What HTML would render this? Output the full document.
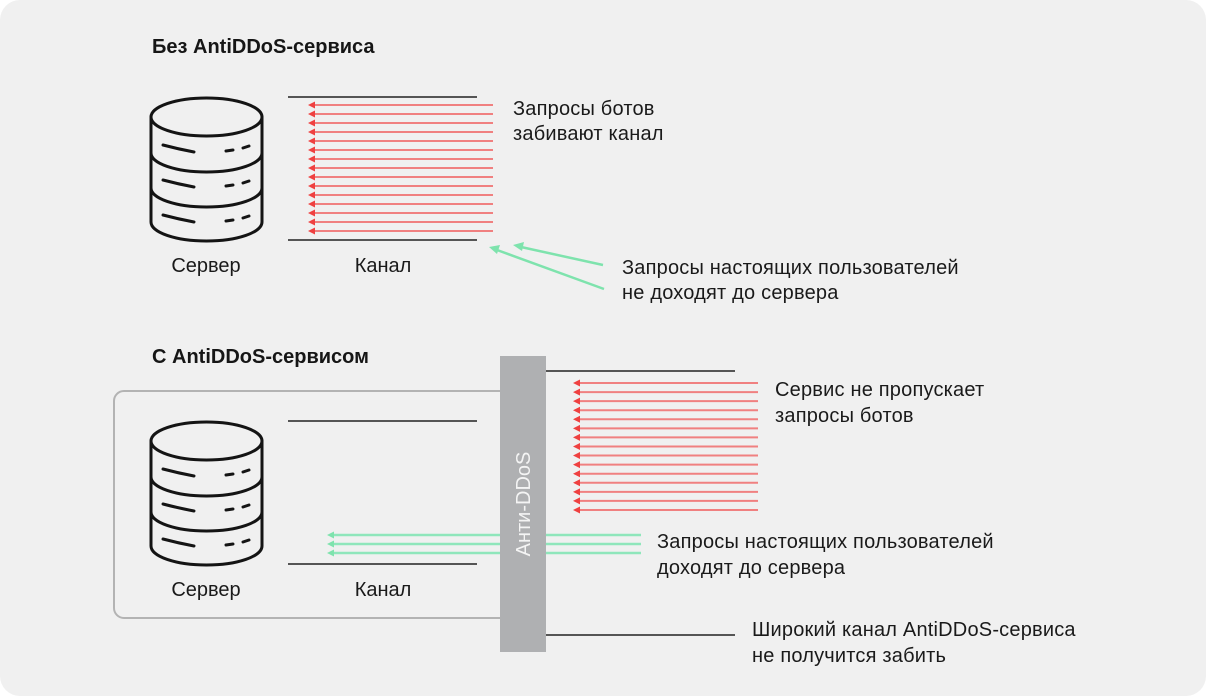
<!DOCTYPE html>
<html><head><meta charset="utf-8">
<style>
html,body{margin:0;padding:0;background:#fff;}
svg{display:block;}
text{font-family:"Liberation Sans",Arial,sans-serif;}
.b{letter-spacing:0.2px;}
</style></head>
<body>
<svg width="1206" height="696" viewBox="0 0 1206 696" xmlns="http://www.w3.org/2000/svg">
<defs>
  <g id="server" fill="none" stroke="#141414" stroke-width="3" stroke-linecap="round">
    <ellipse cx="206.5" cy="117" rx="55.5" ry="19"/>
    <path d="M151,117 L151,222 A55.5,19 0 0 0 262,222 L262,117"/>
    <path d="M151,153 A55.5,19 0 0 0 262,153"/>
    <path d="M151,188 A55.5,19 0 0 0 262,188"/>
    <path d="M163,145 Q178,149 194,152"/>
    <path d="M226,151 L233,150"/>
    <path d="M243,148 L249,146"/>
    <path d="M163,180 Q178,184 194,187"/>
    <path d="M226,186 L233,185"/>
    <path d="M243,183 L249,181"/>
    <path d="M163,215 Q178,219 194,222"/>
    <path d="M226,221 L233,220"/>
    <path d="M243,218 L249,216"/>
  </g>
</defs>

<rect x="0" y="0" width="1206" height="696" rx="20" ry="20" fill="#f0f0f0"/>

<!-- ===== TOP SECTION ===== -->
<text x="152" y="53" font-size="20" font-weight="700" fill="#161616">Без AntiDDoS-сервиса</text>

<use href="#server"/>
<text x="206" y="272" font-size="20" fill="#1a1a1a" text-anchor="middle">Сервер</text>
<text x="383" y="272" font-size="20" fill="#1a1a1a" text-anchor="middle">Канал</text>

<line x1="288" y1="97" x2="477" y2="97" stroke="#555" stroke-width="2"/>
<line x1="288" y1="240" x2="477" y2="240" stroke="#555" stroke-width="2"/>

<g id="redtop">
<g stroke="#f08080" stroke-width="2">
<line x1="313" y1="105" x2="493" y2="105"/>
<line x1="313" y1="114" x2="493" y2="114"/>
<line x1="313" y1="123" x2="493" y2="123"/>
<line x1="313" y1="132" x2="493" y2="132"/>
<line x1="313" y1="141" x2="493" y2="141"/>
<line x1="313" y1="150" x2="493" y2="150"/>
<line x1="313" y1="159" x2="493" y2="159"/>
<line x1="313" y1="168" x2="493" y2="168"/>
<line x1="313" y1="177" x2="493" y2="177"/>
<line x1="313" y1="186" x2="493" y2="186"/>
<line x1="313" y1="195" x2="493" y2="195"/>
<line x1="313" y1="204" x2="493" y2="204"/>
<line x1="313" y1="213" x2="493" y2="213"/>
<line x1="313" y1="222" x2="493" y2="222"/>
<line x1="313" y1="231" x2="493" y2="231"/>
</g>
<g fill="#ef4040">
<polygon points="308,105 315,101.5 315,108.5"/>
<polygon points="308,114 315,110.5 315,117.5"/>
<polygon points="308,123 315,119.5 315,126.5"/>
<polygon points="308,132 315,128.5 315,135.5"/>
<polygon points="308,141 315,137.5 315,144.5"/>
<polygon points="308,150 315,146.5 315,153.5"/>
<polygon points="308,159 315,155.5 315,162.5"/>
<polygon points="308,168 315,164.5 315,171.5"/>
<polygon points="308,177 315,173.5 315,180.5"/>
<polygon points="308,186 315,182.5 315,189.5"/>
<polygon points="308,195 315,191.5 315,198.5"/>
<polygon points="308,204 315,200.5 315,207.5"/>
<polygon points="308,213 315,209.5 315,216.5"/>
<polygon points="308,222 315,218.5 315,225.5"/>
<polygon points="308,231 315,227.5 315,234.5"/>
</g>
</g>

<text class="b" font-size="20" fill="#1a1a1a"><tspan x="513" y="115">Запросы ботов</tspan><tspan x="513" y="140">забивают канал</tspan></text>

<!-- green arrows top -->
<g stroke="#7ee3ad" stroke-width="2.5" fill="none">
  <line x1="603" y1="265" x2="521" y2="247"/>
  <line x1="604" y1="289" x2="497" y2="250"/>
</g>
<g fill="#7ee3ad">
  <polygon points="513,245 524,242 522,251"/>
  <polygon points="489,247 500,245 497,254"/>
</g>
<text class="b" font-size="20" fill="#1a1a1a"><tspan x="622" y="274">Запросы настоящих пользователей</tspan><tspan x="622" y="299">не доходят до сервера</tspan></text>

<!-- ===== BOTTOM SECTION ===== -->
<text x="152" y="363" font-size="20" font-weight="700" fill="#161616">С AntiDDoS-сервисом</text>

<rect x="114" y="391" width="420" height="227" rx="10" ry="10" fill="none" stroke="#b3b3b3" stroke-width="2"/>

<use href="#server" transform="translate(0,324)"/>
<text x="206" y="596" font-size="20" fill="#1a1a1a" text-anchor="middle">Сервер</text>
<text x="383" y="596" font-size="20" fill="#1a1a1a" text-anchor="middle">Канал</text>

<line x1="288" y1="421" x2="477" y2="421" stroke="#555" stroke-width="2"/>
<line x1="288" y1="564" x2="477" y2="564" stroke="#555" stroke-width="2"/>

<!-- green bottom arrows -->
<g stroke="#8fe6bb" stroke-width="2.5">
  <line x1="332" y1="535" x2="641" y2="535"/>
  <line x1="332" y1="544" x2="641" y2="544"/>
  <line x1="332" y1="553" x2="641" y2="553"/>
</g>
<g fill="#7ee3ad">
  <polygon points="327,535 334,531.5 334,538.5"/>
  <polygon points="327,544 334,540.5 334,547.5"/>
  <polygon points="327,553 334,549.5 334,556.5"/>
</g>

<!-- Anti-DDoS bar -->
<rect x="500" y="356" width="46" height="296" fill="#afb0b2"/>
<text transform="translate(530,504) rotate(-90)" x="0" y="0" font-size="20" fill="#f4f4f4" text-anchor="middle">Анти-DDoS</text>

<line x1="546" y1="371" x2="735" y2="371" stroke="#555" stroke-width="2"/>
<line x1="546" y1="635" x2="735" y2="635" stroke="#555" stroke-width="2"/>

<g stroke="#f08080" stroke-width="2">
<line x1="578" y1="383" x2="758" y2="383"/>
<line x1="578" y1="392.07" x2="758" y2="392.07"/>
<line x1="578" y1="401.14" x2="758" y2="401.14"/>
<line x1="578" y1="410.21" x2="758" y2="410.21"/>
<line x1="578" y1="419.28" x2="758" y2="419.28"/>
<line x1="578" y1="428.35" x2="758" y2="428.35"/>
<line x1="578" y1="437.42" x2="758" y2="437.42"/>
<line x1="578" y1="446.49" x2="758" y2="446.49"/>
<line x1="578" y1="455.56" x2="758" y2="455.56"/>
<line x1="578" y1="464.63" x2="758" y2="464.63"/>
<line x1="578" y1="473.7" x2="758" y2="473.7"/>
<line x1="578" y1="482.77" x2="758" y2="482.77"/>
<line x1="578" y1="491.84" x2="758" y2="491.84"/>
<line x1="578" y1="500.91" x2="758" y2="500.91"/>
<line x1="578" y1="510" x2="758" y2="510"/>
</g>
<g fill="#ef4040">
<polygon points="573,383 580,379.5 580,386.5"/>
<polygon points="573,392.07 580,388.57 580,395.57"/>
<polygon points="573,401.14 580,397.64 580,404.64"/>
<polygon points="573,410.21 580,406.71 580,413.71"/>
<polygon points="573,419.28 580,415.78 580,422.78"/>
<polygon points="573,428.35 580,424.85 580,431.85"/>
<polygon points="573,437.42 580,433.92 580,440.92"/>
<polygon points="573,446.49 580,442.99 580,449.99"/>
<polygon points="573,455.56 580,452.06 580,459.06"/>
<polygon points="573,464.63 580,461.13 580,468.13"/>
<polygon points="573,473.7 580,470.2 580,477.2"/>
<polygon points="573,482.77 580,479.27 580,486.27"/>
<polygon points="573,491.84 580,488.34 580,495.34"/>
<polygon points="573,500.91 580,497.41 580,504.41"/>
<polygon points="573,510 580,506.5 580,513.5"/>
</g>

<text class="b" font-size="20" fill="#1a1a1a"><tspan x="775" y="396">Сервис не пропускает</tspan><tspan x="775" y="422">запросы ботов</tspan></text>
<text class="b" font-size="20" fill="#1a1a1a"><tspan x="657" y="548">Запросы настоящих пользователей</tspan><tspan x="657" y="574">доходят до сервера</tspan></text>
<text class="b" font-size="20" fill="#1a1a1a"><tspan x="752" y="636">Широкий канал AntiDDoS-сервиса</tspan><tspan x="752" y="662">не получится забить</tspan></text>
</svg>
</body></html>
